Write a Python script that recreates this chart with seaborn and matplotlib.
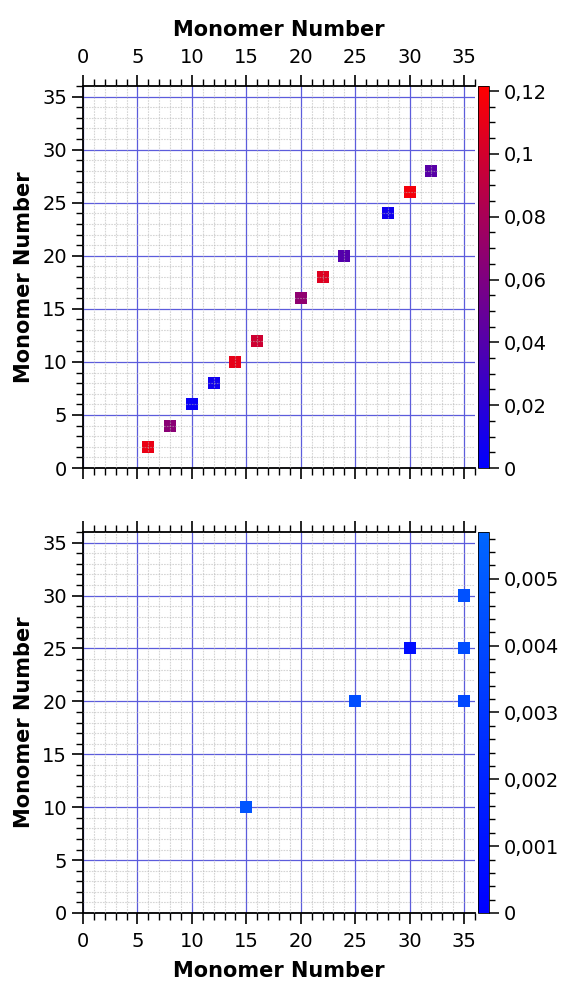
import numpy as np
import pandas as pd
import matplotlib
matplotlib.use("Agg")
import matplotlib.pyplot as plt
import seaborn as sns
from matplotlib.colors import LinearSegmentedColormap, Normalize
from matplotlib.ticker import MultipleLocator, FuncFormatter
from matplotlib.cm import ScalarMappable

# ---- data ----
top_x = [6, 8, 10, 12, 14, 16, 20, 22, 24, 28, 30, 32]
top_y = [2, 4, 6, 8, 10, 12, 16, 18, 20, 24, 26, 28]
top_val = [0.112, 0.066, 0.004, 0.008, 0.110, 0.098, 0.068, 0.106, 0.040, 0.008, 0.116, 0.042]

bot_x = [15, 25, 30, 35, 35, 35]
bot_y = [10, 20, 25, 20, 25, 30]
bot_val = [0.0047, 0.0043, 0.0008, 0.0040, 0.0043, 0.0045]

axis_ticks = [0, 5, 10, 15, 20, 25, 30, 35]
top_cbar_ticks = [0, 0.02, 0.04, 0.06, 0.08, 0.1, 0.12]
bot_cbar_ticks = [0, 0.001, 0.002, 0.003, 0.004, 0.005]
axis_label = "Monomer Number"

sns.set_style("white")
plt.rcParams['font.family'] = ['DejaVu Sans']
plt.rcParams.update({
    "text.color": "black", "axes.labelcolor": "black",
    "xtick.color": "black", "ytick.color": "black", "axes.edgecolor": "black",
})

fig = plt.figure(figsize=(5.65, 9.81), dpi=100)

cmap_top = LinearSegmentedColormap.from_list("br", ["#0000ff", "#ff0000"])
cmap_bot = LinearSegmentedColormap.from_list("bb", ["#0000ff", "#0066ff"])

L, W = 83 / 565, 392 / 565
top_rect = [L, 1 - 468 / 981, W, (468 - 86) / 981]
bot_rect = [L, 1 - 913 / 981, W, (913 - 532) / 981]
cb_l, cb_w = 478 / 565, 11 / 565

def comma_fmt(v, pos):
    if abs(v) < 1e-12:
        return "0"
    return ("%g" % v).replace(".", ",")

def style_axes(ax, top_labels):
    ax.set_xlim(0, 36)
    ax.set_ylim(0, 36)
    ax.set_xticks(axis_ticks)
    ax.set_yticks(axis_ticks)
    ax.xaxis.set_minor_locator(MultipleLocator(1))
    ax.yaxis.set_minor_locator(MultipleLocator(1))
    ax.grid(which="major", color="#5c5cdc", linestyle="-", linewidth=0.9, zorder=0.5)
    ax.set_axisbelow(True)
    # light minor grid drawn over the markers (as in the reference)
    for v in range(1, 36):
        if v % 5:
            ax.axvline(v, color="#b4b4b4", alpha=0.55, linestyle=(0, (1.5, 1)), linewidth=0.8, zorder=4)
            ax.axhline(v, color="#b4b4b4", alpha=0.55, linestyle=(0, (1.5, 1)), linewidth=0.8, zorder=4)
    for s in ax.spines.values():
        s.set_color("black")
        s.set_linewidth(1.3)
    ax.spines["right"].set_visible(False)
    ax.tick_params(axis="both", which="major", direction="out", length=8, width=1.2,
                   labelsize=14, color="black", labelcolor="black")
    ax.tick_params(axis="both", which="minor", direction="out", length=5, width=1.0, color="black")
    ax.tick_params(axis="x", which="major", pad=6)
    ax.tick_params(axis="x", which="both", top=True, bottom=True,
                   labeltop=top_labels, labelbottom=not top_labels)
    ax.tick_params(axis="y", which="both", left=True, right=False)
    ax.set_ylabel(axis_label, fontsize=15, fontweight="bold", labelpad=6)
    if top_labels:
        ax.set_xlabel(axis_label, fontsize=15, fontweight="bold", labelpad=8)
        ax.xaxis.set_label_position("top")
    else:
        ax.set_xlabel(axis_label, fontsize=15, fontweight="bold", labelpad=7)

def style_cbar(cax, cmap, vmax, ticks, minor):
    sm = ScalarMappable(norm=Normalize(0, vmax), cmap=cmap)
    cb = fig.colorbar(sm, cax=cax)
    cb.set_ticks(ticks)
    cb.ax.yaxis.set_major_formatter(FuncFormatter(comma_fmt))
    cb.ax.yaxis.set_minor_locator(MultipleLocator(minor))
    cb.ax.tick_params(which="major", length=7, width=1.1, labelsize=14, direction="out",
                      color="black", labelcolor="black")
    cb.ax.tick_params(which="minor", length=4, width=1.0, direction="out", color="black")
    cb.outline.set_linewidth(0.6)
    return cb

# ---- top panel ----
ax1 = fig.add_axes(top_rect)
df1 = pd.DataFrame({"x": top_x, "y": top_y, "v": top_val})
sns.scatterplot(data=df1, x="x", y="y", hue="v", palette=cmap_top, hue_norm=(0, 0.1216),
                marker="s", s=75, linewidth=0, legend=False, ax=ax1, zorder=3)
style_axes(ax1, top_labels=True)
cax1 = fig.add_axes([cb_l, top_rect[1], cb_w, top_rect[3]])
style_cbar(cax1, cmap_top, 0.1216, top_cbar_ticks, 0.005)

# ---- bottom panel ----
ax2 = fig.add_axes(bot_rect)
df2 = pd.DataFrame({"x": bot_x, "y": bot_y, "v": bot_val})
sns.scatterplot(data=df2, x="x", y="y", hue="v", palette=cmap_bot, hue_norm=(0, 0.0057),
                marker="s", s=75, linewidth=0, legend=False, ax=ax2, zorder=3)
style_axes(ax2, top_labels=False)
cax2 = fig.add_axes([cb_l, bot_rect[1], cb_w, bot_rect[3]])
style_cbar(cax2, cmap_bot, 0.0057, bot_cbar_ticks, 0.0002)

fig.savefig("out.png", dpi=100)
